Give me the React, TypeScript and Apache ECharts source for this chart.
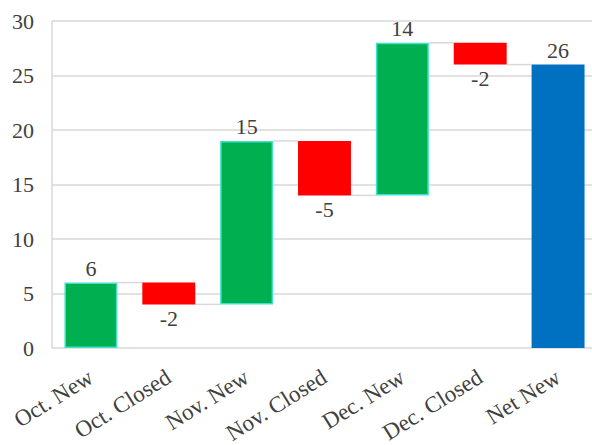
import React, { useEffect, useRef } from "react";
import * as echarts from "echarts";

const categories = ["Oct. New", "Oct. Closed", "Nov. New", "Nov. Closed", "Dec. New", "Dec. Closed", "Net New"];
const changes = [6, -2, 15, -5, 14, -2, 26];
const bases = [0, 4, 4, 14, 14, 26, 0];
const heights = [6, 2, 15, 5, 14, 2, 26];
const kinds = ["new", "closed", "new", "closed", "new", "closed", "total"];
const connectorLevels = [6, 4, 19, 14, 28, 26];
const yTicks = { min: 0, max: 30, interval: 5 };

const FONT = "Liberation Serif, Times New Roman, serif";
const TEXT = "#404040";
const BAR_FRACTION = 0.68;

const colorFor = (k: string) => (k === "new" ? "#00b050" : k === "closed" ? "#ff0000" : "#0070c0");

export default function App() {
  const ref = useRef<HTMLDivElement>(null);
  useEffect(() => {
    if (!ref.current) return;
    const chart = echarts.init(ref.current, null, { renderer: "svg" });
    chart.setOption({
      animation: false,
      backgroundColor: "#ffffff",
      textStyle: { fontFamily: FONT, color: TEXT },
      grid: { left: 52, right: -5, top: 21, bottom: 97, outerBoundsMode: "none" },
      xAxis: {
        type: "category",
        data: categories,
        axisLine: { show: false },
        axisTick: { show: false },
        axisLabel: {
          interval: 0,
          rotate: 32,
          margin: 27,
          fontFamily: FONT,
          fontSize: 23,
          color: TEXT,
        },
      },
      yAxis: {
        type: "value",
        min: yTicks.min,
        max: yTicks.max,
        interval: yTicks.interval,
        axisLine: { show: true, lineStyle: { color: "#d9d9d9", width: 1.5 } },
        axisTick: { show: false },
        splitLine: { lineStyle: { color: "#d9d9d9", width: 1.5 } },
        axisLabel: { fontFamily: FONT, fontSize: 22, color: TEXT, margin: 18 },
      },
      series: [
        {
          type: "custom",
          z: 1,
          silent: true,
          renderItem: (params: any, api: any) => {
            const i = api.value(0);
            const y = api.value(1);
            const p = api.coord([i, y]);
            const band = api.size([1, 0])[0];
            const bw = band * BAR_FRACTION;
            return {
              type: "line",
              shape: { x1: p[0] + bw / 2, y1: p[1], x2: p[0] + band - bw / 2, y2: p[1] },
              style: { stroke: "#d9d9d9", lineWidth: 1.5 },
            };
          },
          data: connectorLevels.map((v, i) => [i, v]),
        },
        {
          type: "bar",
          stack: "wf",
          barWidth: BAR_FRACTION * 100 + "%",
          itemStyle: { color: "transparent" },
          silent: true,
          data: bases,
        },
        {
          type: "bar",
          stack: "wf",
          z: 3,
          data: heights.map((h, i) => ({
            value: h,
            itemStyle: {
              color: colorFor(kinds[i]),
              borderColor: kinds[i] === "new" ? "#3fe0cc" : colorFor(kinds[i]),
              borderWidth: kinds[i] === "new" ? 1.5 : 0,
            },
            label: {
              show: true,
              position: kinds[i] === "closed" ? "bottom" : "top",
              distance: 3,
              formatter: String(changes[i]),
              fontFamily: FONT,
              fontSize: 22,
              color: TEXT,
            },
          })),
        },
      ],
    });
    return () => chart.dispose();
  }, []);
  return <div ref={ref} style={{ position: "fixed", left: 0, top: 0, width: 592, height: 445 }} />;
}
